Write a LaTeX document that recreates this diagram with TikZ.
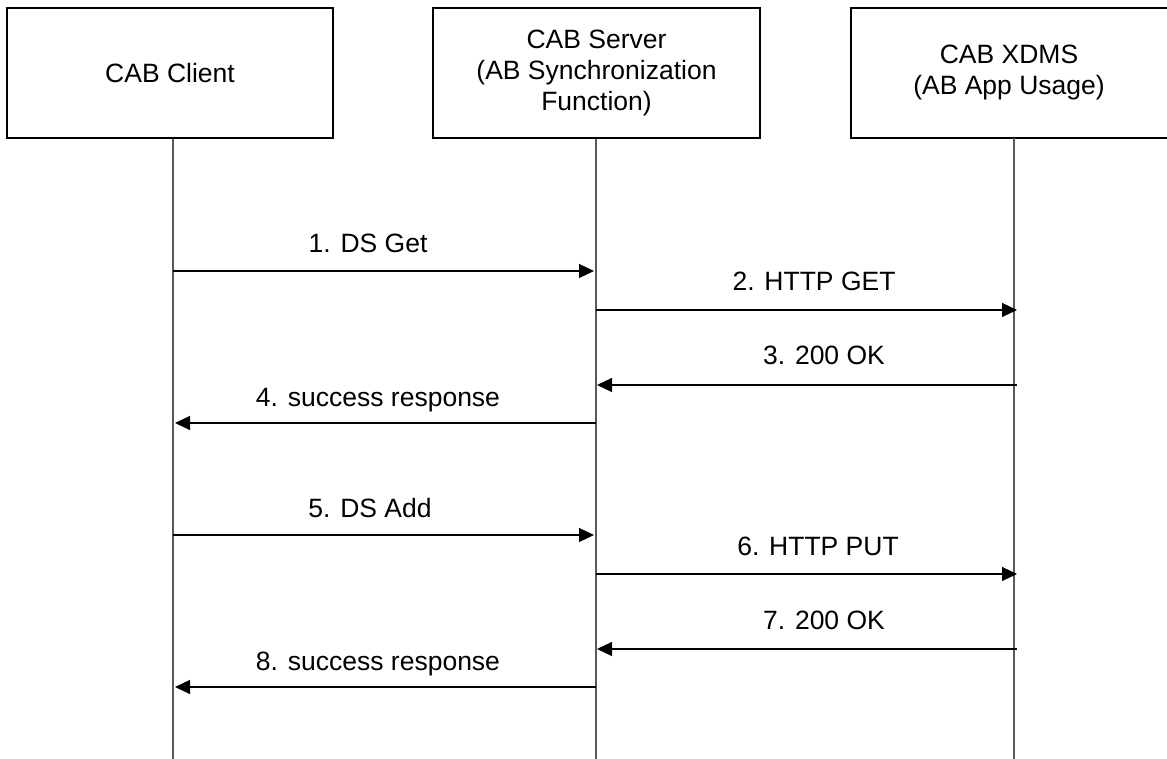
\documentclass[tikz,border=0pt]{standalone}
\usepackage{fontspec}
\setmainfont{Liberation Sans}
\usetikzlibrary{arrows.meta}
\begin{document}
\begin{tikzpicture}[x=1pt,y=-1pt,
  entity/.style={draw=black,line width=1.2pt,minimum height=130pt,align=center,inner sep=0pt,
    font=\fontsize{26.5}{31}\selectfont},
  life/.style={draw=black!65,line width=1.3pt},
  msg/.style={draw=black,line width=1.1pt,-{Triangle[length=15pt,width=14pt]}},
  lbl/.style={font=\fontsize{26.5}{31}\selectfont,inner sep=0pt}]
\useasboundingbox (0,0) rectangle (1167,759);
\node[entity,minimum width=326pt] (client) at (170,73) {CAB Client};
\node[entity,minimum width=327pt] (server) at (596.5,73) {CAB Server\\(AB Synchronization\\Function)};
\node[entity,draw=none,outer sep=0pt,minimum width=316pt] (xdms) at (1009,73) {CAB XDMS\\(AB App Usage)};
\draw[line width=1.2pt] (xdms.north west) rectangle ([xshift=20pt]xdms.south east);
% lifelines
\coordinate (cb) at (173,762);
\coordinate (sb) at (596,762);
\coordinate (xb) at (1014,762);
\draw[life] (client.south -| cb) -- (cb);
\draw[life] (server.south -| sb) -- (sb);
\draw[life] (xdms.south -| xb) -- (xb);
% message points
\coordinate (c1) at (173,271); \coordinate (s1) at (594,271);
\coordinate (s2) at (596,310); \coordinate (x2) at (1017,310);
\coordinate (x3) at (1017,385); \coordinate (s3) at (597,385);
\coordinate (s4) at (596,423); \coordinate (c4) at (175,423);
\coordinate (c5) at (173,535); \coordinate (s5) at (594,535);
\coordinate (s6) at (596,574); \coordinate (x6) at (1017,574);
\coordinate (x7) at (1017,649); \coordinate (s7) at (597,649);
\coordinate (s8) at (596,687); \coordinate (c8) at (175,687);
\draw[msg] (c1) -- (s1);
\draw[msg] (s2) -- (x2);
\draw[msg] (x3) -- (s3);
\draw[msg] (s4) -- (c4);
\draw[msg] (c5) -- (s5);
\draw[msg] (s6) -- (x6);
\draw[msg] (x7) -- (s7);
\draw[msg] (s8) -- (c8);
% labels
\node[lbl] (l1) at (368,243) {1. DS Get};
\node[lbl] (l2) at (814,281) {2. HTTP GET};
\node[lbl] (l3) at (824,355) {3. 200 OK};
\node[lbl] (l4) at (378,400) {4. success response};
\node[lbl] (l5) at (370,508) {5. DS Add};
\node[lbl] (l6) at (818,546) {6. HTTP PUT};
\node[lbl] (l7) at (824,620) {7. 200 OK};
\node[lbl] (l8) at (378,664) {8. success response};
\end{tikzpicture}
\end{document}
